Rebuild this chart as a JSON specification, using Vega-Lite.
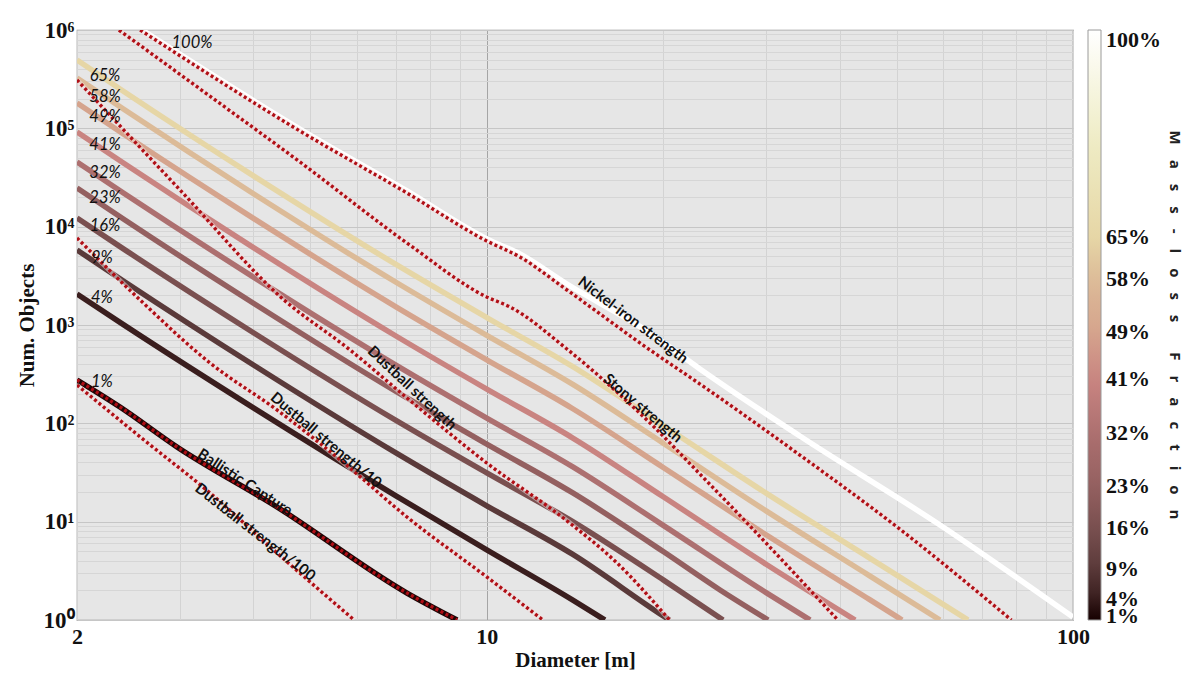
{
  "$schema": "https://vega.github.io/schema/vega-lite/v6.json",
  "width": 996,
  "height": 590,
  "autosize": "none",
  "padding": {"left": 77, "top": 30, "right": 119, "bottom": 53},
  "background": "white",
  "config": {
    "view": {"fill": "#e6e6e6", "stroke": "#8a8a8a", "strokeWidth": 1.2}
  },
  "datasets": {
    "solid": [
      {"s": "p1", "pct": 1, "D": 2, "N": 276},
      {"s": "p1", "pct": 1, "D": 2.368, "N": 146.6},
      {"s": "p1", "pct": 1, "D": 2.962, "N": 57.5},
      {"s": "p1", "pct": 1, "D": 4.387, "N": 14.1},
      {"s": "p1", "pct": 1, "D": 7.31, "N": 1.88},
      {"s": "p1", "pct": 1, "D": 8.9, "N": 1},
      {"s": "p4", "pct": 4, "D": 2, "N": 2065},
      {"s": "p4", "pct": 4, "D": 2.4, "N": 1008},
      {"s": "p4", "pct": 4, "D": 4, "N": 143.6},
      {"s": "p4", "pct": 4, "D": 7, "N": 18.3},
      {"s": "p4", "pct": 4, "D": 10, "N": 5.16},
      {"s": "p4", "pct": 4, "D": 14, "N": 1.6},
      {"s": "p4", "pct": 4, "D": 15.9, "N": 1},
      {"s": "p9", "pct": 9, "D": 2, "N": 5794},
      {"s": "p9", "pct": 9, "D": 2.4, "N": 2806},
      {"s": "p9", "pct": 9, "D": 4, "N": 392},
      {"s": "p9", "pct": 9, "D": 7, "N": 50},
      {"s": "p9", "pct": 9, "D": 10, "N": 14.5},
      {"s": "p9", "pct": 9, "D": 14, "N": 4.67},
      {"s": "p9", "pct": 9, "D": 20, "N": 1.1},
      {"s": "p9", "pct": 9, "D": 20.5, "N": 1},
      {"s": "p16", "pct": 16, "D": 2, "N": 12246},
      {"s": "p16", "pct": 16, "D": 2.4, "N": 5943},
      {"s": "p16", "pct": 16, "D": 4, "N": 834},
      {"s": "p16", "pct": 16, "D": 7, "N": 107},
      {"s": "p16", "pct": 16, "D": 10, "N": 31.3},
      {"s": "p16", "pct": 16, "D": 14, "N": 10.07},
      {"s": "p16", "pct": 16, "D": 20, "N": 2.56},
      {"s": "p16", "pct": 16, "D": 25.3, "N": 1},
      {"s": "p23", "pct": 23, "D": 2, "N": 24717},
      {"s": "p23", "pct": 23, "D": 2.4, "N": 11967},
      {"s": "p23", "pct": 23, "D": 4, "N": 1665},
      {"s": "p23", "pct": 23, "D": 7, "N": 211},
      {"s": "p23", "pct": 23, "D": 10, "N": 61.4},
      {"s": "p23", "pct": 23, "D": 14, "N": 19.7},
      {"s": "p23", "pct": 23, "D": 20, "N": 4.97},
      {"s": "p23", "pct": 23, "D": 25, "N": 2.02},
      {"s": "p23", "pct": 23, "D": 30.2, "N": 1},
      {"s": "p32", "pct": 32, "D": 2, "N": 45499},
      {"s": "p32", "pct": 32, "D": 2.4, "N": 22029},
      {"s": "p32", "pct": 32, "D": 4, "N": 3069},
      {"s": "p32", "pct": 32, "D": 7, "N": 390},
      {"s": "p32", "pct": 32, "D": 10, "N": 113},
      {"s": "p32", "pct": 32, "D": 14, "N": 36.3},
      {"s": "p32", "pct": 32, "D": 20, "N": 9.18},
      {"s": "p32", "pct": 32, "D": 30, "N": 1.89},
      {"s": "p32", "pct": 32, "D": 35.6, "N": 1},
      {"s": "p41", "pct": 41, "D": 2, "N": 91833},
      {"s": "p41", "pct": 41, "D": 2.4, "N": 44361},
      {"s": "p41", "pct": 41, "D": 4, "N": 6124},
      {"s": "p41", "pct": 41, "D": 7, "N": 773},
      {"s": "p41", "pct": 41, "D": 10, "N": 223},
      {"s": "p41", "pct": 41, "D": 14, "N": 71.3},
      {"s": "p41", "pct": 41, "D": 20, "N": 17.9},
      {"s": "p41", "pct": 41, "D": 30, "N": 3.67},
      {"s": "p41", "pct": 41, "D": 42.5, "N": 1},
      {"s": "p49", "pct": 49, "D": 2, "N": 181134},
      {"s": "p49", "pct": 49, "D": 2.4, "N": 87498},
      {"s": "p49", "pct": 49, "D": 4, "N": 12134},
      {"s": "p49", "pct": 49, "D": 7, "N": 1531},
      {"s": "p49", "pct": 49, "D": 10, "N": 443},
      {"s": "p49", "pct": 49, "D": 14, "N": 141.6},
      {"s": "p49", "pct": 49, "D": 20, "N": 35.6},
      {"s": "p49", "pct": 49, "D": 30, "N": 7.31},
      {"s": "p49", "pct": 49, "D": 45, "N": 1.61},
      {"s": "p49", "pct": 49, "D": 51.1, "N": 1},
      {"s": "p58", "pct": 58, "D": 2, "N": 325087},
      {"s": "p58", "pct": 58, "D": 2.4, "N": 156970},
      {"s": "p58", "pct": 58, "D": 4, "N": 21627},
      {"s": "p58", "pct": 58, "D": 7, "N": 2722},
      {"s": "p58", "pct": 58, "D": 10, "N": 785},
      {"s": "p58", "pct": 58, "D": 14, "N": 250},
      {"s": "p58", "pct": 58, "D": 20, "N": 62.8},
      {"s": "p58", "pct": 58, "D": 30, "N": 12.8},
      {"s": "p58", "pct": 58, "D": 45, "N": 2.81},
      {"s": "p58", "pct": 58, "D": 59.3, "N": 1},
      {"s": "p65", "pct": 65, "D": 2, "N": 495450},
      {"s": "p65", "pct": 65, "D": 2.4, "N": 238781},
      {"s": "p65", "pct": 65, "D": 4, "N": 32885},
      {"s": "p65", "pct": 65, "D": 7, "N": 4130},
      {"s": "p65", "pct": 65, "D": 10, "N": 1191},
      {"s": "p65", "pct": 65, "D": 14, "N": 379},
      {"s": "p65", "pct": 65, "D": 20, "N": 95.1},
      {"s": "p65", "pct": 65, "D": 30, "N": 19.4},
      {"s": "p65", "pct": 65, "D": 45, "N": 4.26},
      {"s": "p65", "pct": 65, "D": 66.2, "N": 1},
      {"s": "p100", "pct": 100, "D": 2.582, "N": 1000000},
      {"s": "p100", "pct": 100, "D": 4.8, "N": 98400},
      {"s": "p100", "pct": 100, "D": 7.31, "N": 23070},
      {"s": "p100", "pct": 100, "D": 10, "N": 7500},
      {"s": "p100", "pct": 100, "D": 11.39, "N": 5277},
      {"s": "p100", "pct": 100, "D": 13.7, "N": 2612},
      {"s": "p100", "pct": 100, "D": 18.99, "N": 829},
      {"s": "p100", "pct": 100, "D": 23.1, "N": 357},
      {"s": "p100", "pct": 100, "D": 34.2, "N": 74.3},
      {"s": "p100", "pct": 100, "D": 60, "N": 8.83},
      {"s": "p100", "pct": 100, "D": 100, "N": 1.07}
    ],
    "dotted": [
      {"s": "Nickel", "D": 2.563, "N": 1000000},
      {"s": "Nickel", "D": 4.8, "N": 93970},
      {"s": "Nickel", "D": 7.31, "N": 21990},
      {"s": "Nickel", "D": 10, "N": 7150},
      {"s": "Nickel", "D": 11.39, "N": 4918},
      {"s": "Nickel", "D": 13.7, "N": 2270},
      {"s": "Nickel", "D": 18.99, "N": 557},
      {"s": "Nickel", "D": 23.1, "N": 251},
      {"s": "Nickel", "D": 34.2, "N": 47.6},
      {"s": "Nickel", "D": 50.1, "N": 8.83},
      {"s": "Nickel", "D": 78.5, "N": 1},
      {"s": "Stony", "D": 2.358, "N": 1000000},
      {"s": "Stony", "D": 3.243, "N": 251200},
      {"s": "Stony", "D": 4.8, "N": 45500},
      {"s": "Stony", "D": 7.31, "N": 6823},
      {"s": "Stony", "D": 10, "N": 1928},
      {"s": "Stony", "D": 10.96, "N": 1524},
      {"s": "Stony", "D": 13.7, "N": 570},
      {"s": "Stony", "D": 16.68, "N": 208},
      {"s": "Stony", "D": 18.99, "N": 100.8},
      {"s": "Stony", "D": 23.1, "N": 30.5},
      {"s": "Stony", "D": 27.8, "N": 9.69},
      {"s": "Stony", "D": 39.7, "N": 1},
      {"s": "Dustball", "D": 2, "N": 310400},
      {"s": "Dustball", "D": 2.998, "N": 23600},
      {"s": "Dustball", "D": 4.511, "N": 1795},
      {"s": "Dustball", "D": 5.846, "N": 557},
      {"s": "Dustball", "D": 7.31, "N": 181},
      {"s": "Dustball", "D": 10, "N": 39.5},
      {"s": "Dustball", "D": 13.7, "N": 10.2},
      {"s": "Dustball", "D": 16.68, "N": 3.8},
      {"s": "Dustball", "D": 20.5, "N": 1},
      {"s": "Dustball10", "D": 2, "N": 7674},
      {"s": "Dustball10", "D": 2.563, "N": 1795},
      {"s": "Dustball10", "D": 3.372, "N": 411},
      {"s": "Dustball10", "D": 4.387, "N": 136.7},
      {"s": "Dustball10", "D": 5.708, "N": 39.5},
      {"s": "Dustball10", "D": 7.31, "N": 11.15},
      {"s": "Dustball10", "D": 10, "N": 2.74},
      {"s": "Dustball10", "D": 12.47, "N": 1},
      {"s": "Dustball100", "D": 2, "N": 245},
      {"s": "Dustball100", "D": 2.602, "N": 67.7},
      {"s": "Dustball100", "D": 3.372, "N": 19.6},
      {"s": "Dustball100", "D": 4.387, "N": 4.8},
      {"s": "Dustball100", "D": 5.94, "N": 1},
      {"s": "Ballistic", "D": 2, "N": 276},
      {"s": "Ballistic", "D": 2.368, "N": 146.6},
      {"s": "Ballistic", "D": 2.962, "N": 57.5},
      {"s": "Ballistic", "D": 4.387, "N": 14.1},
      {"s": "Ballistic", "D": 7.31, "N": 1.88},
      {"s": "Ballistic", "D": 8.9, "N": 1}
    ],
    "pctlabels": [
      {"label": "100%", "D": 3.142, "N": 738000},
      {"label": "65%", "D": 2.233, "N": 340700},
      {"label": "58%", "D": 2.233, "N": 208400},
      {"label": "49%", "D": 2.233, "N": 130400},
      {"label": "41%", "D": 2.233, "N": 67700},
      {"label": "32%", "D": 2.233, "N": 35150},
      {"label": "23%", "D": 2.233, "N": 19580},
      {"label": "16%", "D": 2.233, "N": 10160},
      {"label": "9%", "D": 2.206, "N": 4805},
      {"label": "4%", "D": 2.206, "N": 1883},
      {"label": "1%", "D": 2.206, "N": 263}
    ],
    "curvelabels": [
      {"label": "Nickel-iron strength", "D": 17.77, "N": 1125},
      {"label": "Stony strength", "D": 18.47, "N": 143},
      {"label": "Dustball strength", "D": 7.46, "N": 229},
      {"label": "Dustball strength/10", "D": 5.32, "N": 67.7},
      {"label": "Ballistic Capture", "D": 3.87, "N": 25.3},
      {"label": "Dustball strength/100", "D": 4.03, "N": 7.85}
    ]
  },
  "layer": [
    {
      "data": {"name": "solid"},
      "mark": {"type": "line", "strokeWidth": 5.5, "clip": true, "interpolate": "monotone", "strokeCap": "butt"},
      "encoding": {
        "x": {
          "field": "D", "type": "quantitative",
          "scale": {"type": "log", "domain": [2, 100], "nice": false},
          "axis": {
            "title": "Diameter [m]",
            "values": [2, 3, 4, 5, 6, 7, 8, 9, 10, 20, 30, 40, 50, 60, 70, 80, 90, 100],
            "labelExpr": "datum.value == 2 || datum.value == 10 || datum.value == 100 ? '' + datum.value : ''",
            "labelFont": "Liberation Serif", "labelFontSize": 22, "labelFontWeight": "bold", "labelColor": "#111",
            "labelFlush": false, "labelOverlap": false, "labelPadding": 6,
            "ticks": false, "domain": false,
            "grid": true, "gridWidth": 1,
            "gridColor": {"condition": {"test": "datum.value == 10", "value": "#a5a5a5"}, "value": "#d3d3d3"},
            "titleFont": "Liberation Serif", "titleFontSize": 21, "titleFontWeight": "bold", "titleColor": "#111", "titlePadding": 2
          }
        },
        "y": {
          "field": "N", "type": "quantitative",
          "scale": {"type": "log", "domain": [1, 1000000], "nice": false},
          "axis": {
            "title": "Num. Objects",
            "values": [1, 2, 3, 4, 5, 6, 7, 8, 9, 10, 20, 30, 40, 50, 60, 70, 80, 90, 100, 200, 300, 400, 500, 600, 700, 800, 900, 1000, 2000, 3000, 4000, 5000, 6000, 7000, 8000, 9000, 10000, 20000, 30000, 40000, 50000, 60000, 70000, 80000, 90000, 100000, 200000, 300000, 400000, 500000, 600000, 700000, 800000, 900000, 1000000],
            "labelExpr": "datum.value == 1 ? '10⁰' : datum.value == 10 ? '10¹' : datum.value == 100 ? '10²' : datum.value == 1000 ? '10³' : datum.value == 10000 ? '10⁴' : datum.value == 100000 ? '10⁵' : datum.value == 1000000 ? '10⁶' : ''",
            "labelFont": "Liberation Serif", "labelFontSize": 23, "labelFontWeight": "bold", "labelColor": "#111",
            "labelFlush": false, "labelOverlap": false, "labelPadding": 3,
            "ticks": false, "domain": false,
            "grid": true, "gridWidth": 1,
            "gridColor": {"condition": {"test": "datum.value == 1 || datum.value == 10 || datum.value == 100 || datum.value == 1000 || datum.value == 10000 || datum.value == 100000 || datum.value == 1000000", "value": "#c6c6c6"}, "value": "#d6d6d6"},
            "titleFont": "Liberation Serif", "titleFontSize": 21, "titleFontWeight": "bold", "titleColor": "#111", "titlePadding": 6
          }
        },
        "color": {
          "field": "pct", "type": "quantitative",
          "scale": {
            "domain": [0.4, 1, 4, 9, 16, 23, 32, 41, 49, 58, 65, 82, 100],
            "range": ["#160000", "#1e0505", "#3a1e1e", "#5a3a3a", "#7a5050", "#946060", "#ad7070", "#c98481", "#d5a48d", "#dcbb98", "#e6d6a6", "#efedc6", "#ffffff"],
            "interpolate": "rgb"
          },
          "legend": {
            "title": "M\u2003a\u2003s\u2003s\u2003-\u2003l\u2003o\u2003s\u2003s\u2003\u2003F\u2003r\u2003a\u2003c\u2003t\u2003i\u2003o\u2003n",
            "orient": "right", "offset": 15, "padding": 0,
            "direction": "vertical",
            "gradientLength": 590, "gradientThickness": 13,
            "gradientStrokeColor": "#9a9a9a", "gradientStrokeWidth": 1,
            "values": [1, 4, 9, 16, 23, 32, 41, 49, 58, 65, 100],
            "labelExpr": "datum.value + '%'",
            "labelFont": "Liberation Serif", "labelFontSize": 22, "labelFontWeight": "bold", "labelColor": "#111",
            "labelOverlap": false, "labelOffset": 5, "labelBaseline": "middle",
            "titleOrient": "right", "titleFont": "Open Sans", "titleFontSize": 15, "titleFontWeight": "bold", "titleColor": "#222",
            "titleAnchor": "middle", "titlePadding": 6, "titleLimit": 800
          }
        },
        "detail": {"field": "s", "type": "nominal"}
      }
    },
    {
      "data": {"name": "dotted"},
      "transform": [{"filter": "datum.s != 'Ballistic'"}],
      "mark": {"type": "line", "strokeWidth": 5, "clip": true, "interpolate": "monotone", "color": "#f2dede", "opacity": 0.55},
      "encoding": {
        "x": {"field": "D", "type": "quantitative"},
        "y": {"field": "N", "type": "quantitative"},
        "detail": {"field": "s", "type": "nominal"}
      }
    },
    {
      "data": {"name": "dotted"},
      "mark": {"type": "line", "strokeWidth": 3.4, "clip": true, "interpolate": "monotone", "color": "#b00f16", "strokeDash": [3, 2.6]},
      "encoding": {
        "x": {"field": "D", "type": "quantitative"},
        "y": {"field": "N", "type": "quantitative"},
        "detail": {"field": "s", "type": "nominal"}
      }
    },
    {
      "data": {"name": "pctlabels"},
      "mark": {"type": "text", "font": "Lato", "fontStyle": "italic", "fontSize": 16.5, "color": "#111", "align": "center", "baseline": "middle"},
      "encoding": {
        "x": {"field": "D", "type": "quantitative"},
        "y": {"field": "N", "type": "quantitative"},
        "text": {"field": "label"}
      }
    },
    {
      "data": {"name": "curvelabels"},
      "transform": [{"filter": "datum.label == 'Nickel-iron strength'"}],
      "mark": {"type": "text", "font": "Lato", "fontWeight": "bold", "fontSize": 15, "color": "#111", "align": "center", "baseline": "middle", "angle": 37},
      "encoding": {
        "x": {"field": "D", "type": "quantitative"},
        "y": {"field": "N", "type": "quantitative"},
        "text": {"field": "label"}
      }
    },
    {
      "data": {"name": "curvelabels"},
      "transform": [{"filter": "datum.label == 'Stony strength' || datum.label == 'Dustball strength/10'"}],
      "mark": {"type": "text", "font": "Lato", "fontWeight": "bold", "fontSize": 15, "color": "#111", "align": "center", "baseline": "middle", "angle": 40},
      "encoding": {
        "x": {"field": "D", "type": "quantitative"},
        "y": {"field": "N", "type": "quantitative"},
        "text": {"field": "label"}
      }
    },
    {
      "data": {"name": "curvelabels"},
      "transform": [{"filter": "datum.label == 'Dustball strength'"}],
      "mark": {"type": "text", "font": "Lato", "fontWeight": "bold", "fontSize": 15, "color": "#111", "align": "center", "baseline": "middle", "angle": 43},
      "encoding": {
        "x": {"field": "D", "type": "quantitative"},
        "y": {"field": "N", "type": "quantitative"},
        "text": {"field": "label"}
      }
    },
    {
      "data": {"name": "curvelabels"},
      "transform": [{"filter": "datum.label == 'Ballistic Capture'"}],
      "mark": {"type": "text", "font": "Lato", "fontWeight": "bold", "fontSize": 15, "color": "#111", "align": "center", "baseline": "middle", "angle": 33},
      "encoding": {
        "x": {"field": "D", "type": "quantitative"},
        "y": {"field": "N", "type": "quantitative"},
        "text": {"field": "label"}
      }
    },
    {
      "data": {"name": "curvelabels"},
      "transform": [{"filter": "datum.label == 'Dustball strength/100'"}],
      "mark": {"type": "text", "font": "Lato", "fontWeight": "bold", "fontSize": 15, "color": "#111", "align": "center", "baseline": "middle", "angle": 38},
      "encoding": {
        "x": {"field": "D", "type": "quantitative"},
        "y": {"field": "N", "type": "quantitative"},
        "text": {"field": "label"}
      }
    }
  ]
}
